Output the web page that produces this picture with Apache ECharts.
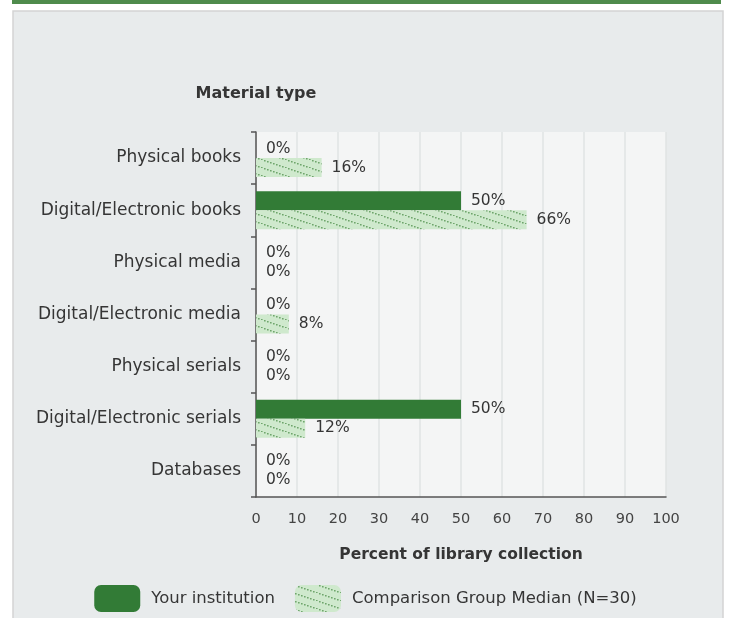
<!DOCTYPE html>
<html>
<head>
<meta charset="utf-8">
<script src="https://cdn.jsdelivr.net/npm/echarts@6/dist/echarts.min.js"></script>
<style>
html,body{margin:0;padding:0;background:#fff;}
#chart{width:731px;height:618px;}
</style>
</head>
<body>
<div id="chart"></div>
<script>
const categories = ['Physical books', 'Digital/Electronic books', 'Physical media', 'Digital/Electronic media', 'Physical serials', 'Digital/Electronic serials', 'Databases'];
const yourInstitution = [0, 50, 0, 0, 0, 50, 0];
const comparisonMedian = [16, 66, 0, 8, 0, 12, 0];
const seriesNames = ['Your institution', 'Comparison Group Median (N=30)'];
const xAxisTitle = 'Percent of library collection';
const yAxisTitle = 'Material type';
const xMin = 0, xMax = 100, xStep = 10;

function hatch() {
  const c = document.createElement('canvas');
  c.width = 24; c.height = 8;
  const g = c.getContext('2d');
  g.fillStyle = '#cfe9cd';
  g.fillRect(0, 0, 24, 8);
  g.fillStyle = '#6fa66c';
  for (let i = 0; i < 24; i += 3) {
    const y = i / 3;
    g.fillRect(i, y, 1.6, 1.5);
  }
  return c;
}
const hatchFill = { image: hatch(), repeat: 'repeat' };
const dark = '#327b36';
const font = 'DejaVu Sans';
const txt = '#353535';

const chart = echarts.init(document.getElementById('chart'), null, { renderer: 'canvas' });
chart.setOption({
  backgroundColor: '#ffffff',
  animation: false,
  textStyle: { fontFamily: font },
  graphic: [
    { type: 'rect', z: -10, shape: { x: 13, y: 11, width: 710, height: 620 }, style: { fill: '#e8ebec', stroke: '#d3d4d4', lineWidth: 1.5 } },
    { type: 'rect', z: -10, shape: { x: 12, y: 0, width: 709, height: 4 }, style: { fill: '#4f8b4c' } }
  ],
  grid: { left: 256, right: 65, top: 132, bottom: 121, show: true, backgroundColor: '#f4f5f5', borderWidth: 0 },
  legend: {
    bottom: 1, left: 'center',
    itemWidth: 46, itemHeight: 27, itemGap: 20,
    icon: 'roundRect',
    textStyle: { fontFamily: font, fontSize: 16.5, color: txt, padding: [0, 0, 0, 6] },
    data: seriesNames
  },
  xAxis: {
    type: 'value', min: xMin, max: xMax, interval: xStep,
    name: xAxisTitle, nameLocation: 'middle', nameGap: 50,
    nameTextStyle: { fontFamily: font, fontWeight: 'bold', fontSize: 15.5, color: txt },
    axisLine: { show: true, lineStyle: { color: '#555', width: 1.5 } },
    axisTick: { show: false },
    axisLabel: { fontFamily: font, fontSize: 14.5, color: '#444', margin: 15 },
    splitLine: { show: true, lineStyle: { color: '#e1e3e3', width: 1.5 } }
  },
  yAxis: {
    type: 'category', data: categories, inverse: true,
    name: yAxisTitle, nameLocation: 'start', nameGap: 30,
    nameTextStyle: { fontFamily: font, fontWeight: 'bold', fontSize: 16, color: txt, align: 'center' },
    axisLine: { show: true, lineStyle: { color: '#555', width: 1.5 } },
    axisTick: { show: true, length: 5, alignWithLabel: false, lineStyle: { color: '#555', width: 1.5 } },
    axisLabel: { fontFamily: font, fontSize: 17, color: txt, margin: 15 },
    splitLine: { show: false }
  },
  series: [
    {
      name: seriesNames[0], type: 'bar', data: yourInstitution,
      barWidth: 19, barGap: '0%',
      itemStyle: { color: dark },
      label: { show: true, position: 'right', distance: 10, formatter: '{c}%', fontFamily: font, fontSize: 15.5, color: txt }
    },
    {
      name: seriesNames[1], type: 'bar', data: comparisonMedian,
      barWidth: 19, barGap: '0%',
      itemStyle: { color: hatchFill },
      label: { show: true, position: 'right', distance: 10, formatter: '{c}%', fontFamily: font, fontSize: 15.5, color: txt }
    }
  ]
});
</script>
</body>
</html>
